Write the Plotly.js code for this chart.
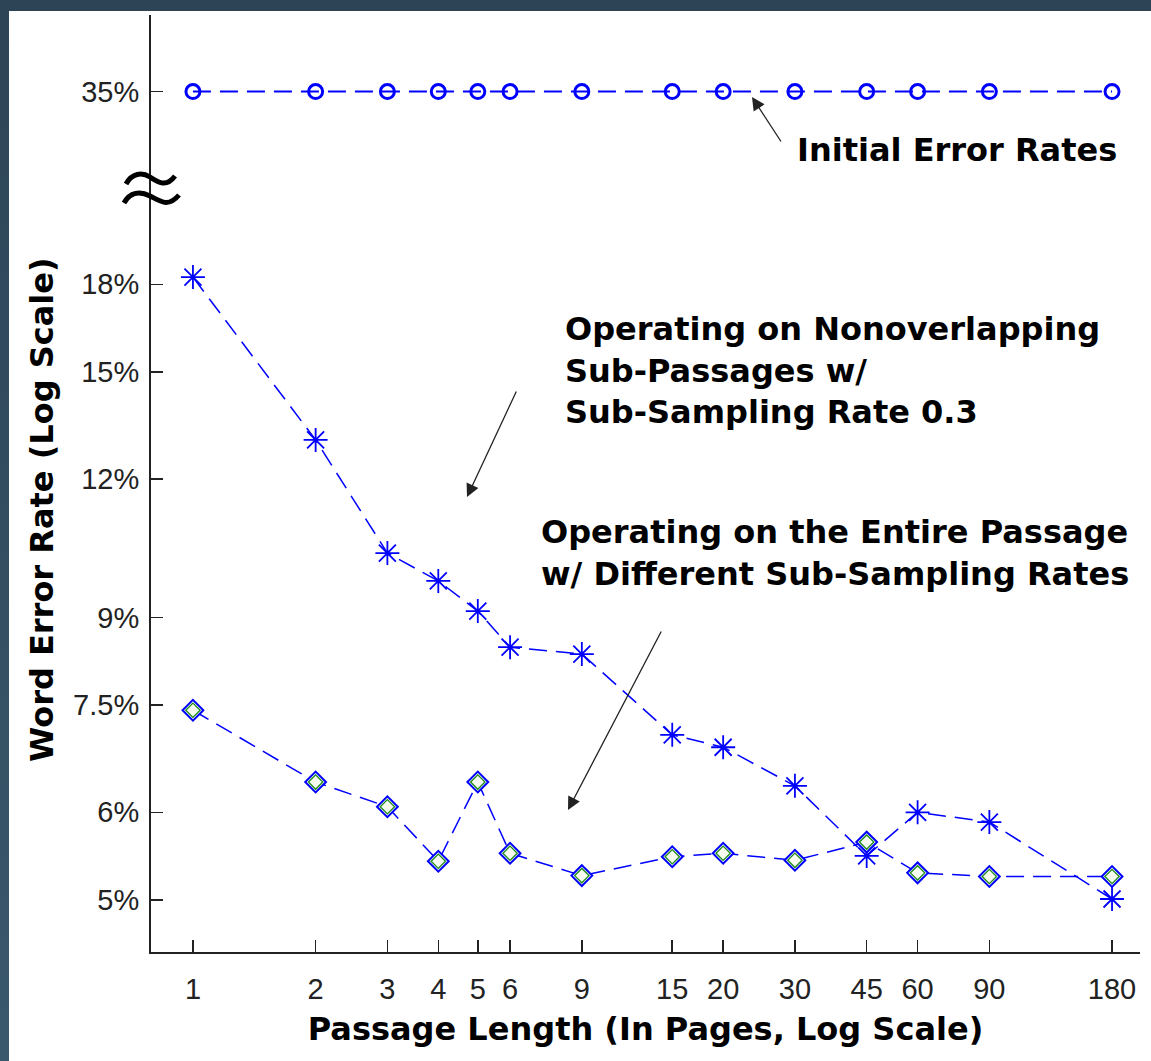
<!DOCTYPE html>
<html>
<head>
<meta charset="utf-8">
<script src="https://cdn.plot.ly/plotly-3.0.1.min.js"></script>
<style>
  html, body { margin: 0; padding: 0; width: 1151px; height: 1061px; overflow: hidden;
    background: linear-gradient(#2d4456, #3a586c); }
  #chart { position: absolute; left: 9px; top: 11px; width: 1142px; height: 1050px; background: #fff; }
</style>
</head>
<body>
<div id="chart"></div>
<script>
// ---- data ----
const pageLengths = [1, 2, 3, 4, 5, 6, 9, 15, 20, 30, 45, 60, 90, 180];
const xTickText = ['1', '2', '3', '4', '5', '6', '9', '15', '20', '30', '45', '60', '90', '180'];
const initialRates = [35, 35, 35, 35, 35, 35, 35, 35, 35, 35, 35, 35, 35, 35];
const nonoverlapRates = [18.27, 13.02, 10.29, 9.71, 9.12, 8.46, 8.34, 7.05, 6.87, 6.34, 5.48, 6.00, 5.88, 5.01];
const entireRates = [7.42, 6.39, 6.07, 5.42, 6.39, 5.51, 5.26, 5.47, 5.51, 5.43, 5.64, 5.29, 5.25, 5.25];
const lowerTickVals = [5, 6, 7.5, 9, 12, 15, 18];
const lowerTickText = ['5%', '6%', '7.5%', '9%', '12%', '15%', '18%'];
const upperTickVals = [35];
const upperTickText = ['35%'];

// ---- layout helpers (plot area: 989 x 937 px) ----
const PW = 989, PH = 937, L0 = 151, B0 = 952;
const px = v => (v - L0) / PW;
const py = v => (B0 - v) / PH;
const split = py(190);

const BLUE = '#0000ff';
const dash = '18px,9px';
const tickFont = { family: 'Liberation Sans, Arial, sans-serif', size: 29, color: '#222' };
const boldFont = { family: 'DejaVu Sans, sans-serif', size: 32, color: '#000', weight: 'bold' };

const traces = [
  {
    x: pageLengths, y: initialRates, yaxis: 'y2', type: 'scatter', mode: 'lines+markers',
    name: 'Initial Error Rates',
    line: { color: BLUE, width: 2, dash: dash },
    marker: { symbol: 'circle-open', size: 14, color: BLUE, line: { color: BLUE, width: 3 } }
  },
  {
    x: pageLengths, y: nonoverlapRates, type: 'scatter', mode: 'lines+markers',
    name: 'Nonoverlapping Sub-Passages',
    line: { color: BLUE, width: 1.5, dash: dash },
    marker: { symbol: 'asterisk-open', size: 20, color: BLUE, line: { color: BLUE, width: 1.8 } }
  },
  {
    x: pageLengths, y: entireRates, type: 'scatter', mode: 'lines+markers',
    name: 'Entire Passage',
    line: { color: BLUE, width: 1.5, dash: dash },
    marker: { symbol: 'diamond', size: 16, color: '#f8fcf0', line: { color: BLUE, width: 2 } }
  },
  {
    x: pageLengths, y: entireRates, type: 'scatter', mode: 'markers',
    name: 'Entire Passage (inner)', hoverinfo: 'skip',
    marker: { symbol: 'diamond-open', size: 11, color: '#1a8a1a', line: { color: '#1a8a1a', width: 1.3 } }
  }
];

const axisCommon = {
  showgrid: false, zeroline: false, showline: true, linecolor: '#222', linewidth: 2,
  ticks: 'inside', ticklen: 12, tickwidth: 1.5, tickcolor: '#222', tickfont: tickFont,
  fixedrange: true
};

const layout = {
  width: 1142, height: 1050,
  margin: { l: 142, r: 11, t: 4, b: 109 },
  paper_bgcolor: '#ffffff', plot_bgcolor: '#ffffff',
  showlegend: false,
  xaxis: Object.assign({}, axisCommon, {
    type: 'log', range: [Math.log10(0.789), Math.log10(210.8)],
    tickmode: 'array', tickvals: pageLengths, ticktext: xTickText,
    ticklabelstandoff: 10,
    title: { text: 'Passage Length (In Pages, Log Scale)', font: boldFont, standoff: 14 }
  }),
  yaxis: Object.assign({}, axisCommon, {
    type: 'log', domain: [0, split], range: [Math.log10(4.487), Math.log10(21.9)],
    tickmode: 'array', tickvals: lowerTickVals, ticktext: lowerTickText,
    ticklabelstandoff: 4
  }),
  yaxis2: Object.assign({}, axisCommon, {
    type: 'linear', domain: [split, 1], range: [30.5, 38.5], anchor: 'x',
    tickmode: 'array', tickvals: upperTickVals, ticktext: upperTickText,
    ticklabelstandoff: 4
  }),
  shapes: [
    { type: 'path', xref: 'paper', yref: 'paper',
      path: `M${px(126)},${py(184)} C${px(132)},${py(173)} ${px(142)},${py(172)} ${px(150)},${py(177)} S${px(166)},${py(188)} ${px(175)},${py(176)}`,
      line: { color: '#000', width: 5 } },
    { type: 'path', xref: 'paper', yref: 'paper',
      path: `M${px(124)},${py(203)} C${px(130)},${py(192)} ${px(140)},${py(191)} ${px(150)},${py(196)} S${px(168)},${py(208)} ${px(179)},${py(195)}`,
      line: { color: '#000', width: 5 } }
  ],
  annotations: [
    { xref: 'paper', yref: 'paper', x: px(42), y: py(510), xanchor: 'center', yanchor: 'middle',
      text: 'Word Error Rate (Log Scale)', textangle: -90, showarrow: false, font: boldFont },
    { xref: 'paper', yref: 'paper', x: px(795), y: py(150), xanchor: 'left', yanchor: 'middle',
      text: 'Initial Error Rates', showarrow: false, font: boldFont, align: 'left' },
    { xref: 'paper', yref: 'paper', x: px(563), y: py(370), xanchor: 'left', yanchor: 'middle',
      text: 'Operating on Nonoverlapping<br>Sub-Passages w/<br>Sub-Sampling Rate 0.3',
      showarrow: false, font: boldFont, align: 'left' },
    { xref: 'paper', yref: 'paper', x: px(539), y: py(553), xanchor: 'left', yanchor: 'middle',
      text: 'Operating on the Entire Passage<br>w/ Different Sub-Sampling Rates',
      showarrow: false, font: boldFont, align: 'left' },
    { xref: 'paper', yref: 'paper', x: px(752), y: py(97), text: '', showarrow: true,
      ax: 30, ay: 46, arrowhead: 2, arrowsize: 2, arrowwidth: 1.3, arrowcolor: '#222' },
    { xref: 'paper', yref: 'paper', x: px(467), y: py(497), text: '', showarrow: true,
      ax: 50, ay: -107, arrowhead: 2, arrowsize: 2, arrowwidth: 1.3, arrowcolor: '#222' },
    { xref: 'paper', yref: 'paper', x: px(568), y: py(810), text: '', showarrow: true,
      ax: 94, ay: -180, arrowhead: 2, arrowsize: 2, arrowwidth: 1.3, arrowcolor: '#222' }
  ]
};

Plotly.newPlot('chart', traces, layout, { staticPlot: true, displayModeBar: false });
</script>
</body>
</html>
